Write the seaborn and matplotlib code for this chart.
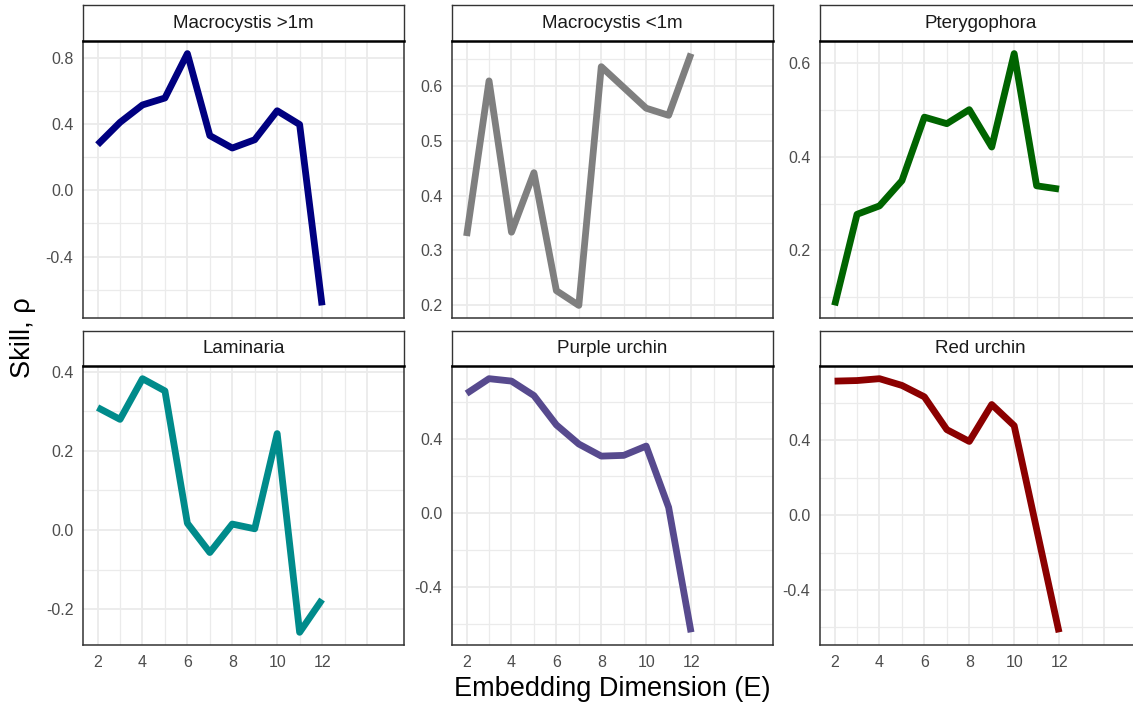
import numpy as np
import pandas as pd
import matplotlib
matplotlib.use("Agg")
import matplotlib.pyplot as plt
import seaborn as sns

sns.set_theme(style="white")
plt.rcParams['font.family'] = ['Liberation Sans', 'DejaVu Sans']

E = [2, 3, 4, 5, 6, 7, 8, 9, 10, 11, 12]
species = ["Macrocystis >1m", "Macrocystis <1m", "Pterygophora",
           "Laminaria", "Purple urchin", "Red urchin"]
macro_big = [0.275, 0.41, 0.515, 0.557, 0.825, 0.33, 0.255, 0.305, 0.48, 0.397, -0.695]
macro_small = [0.326, 0.61, 0.333, 0.442, 0.226, 0.199, 0.636, 0.598, 0.56, 0.547, 0.66]
ptery = [0.082, 0.277, 0.295, 0.349, 0.485, 0.471, 0.501, 0.421, 0.621, 0.338, 0.331]
lamin = [0.31, 0.28, 0.383, 0.352, 0.017, -0.057, 0.015, 0.003, 0.244, -0.259, -0.176]
purple = [0.643, 0.723, 0.71, 0.632, 0.474, 0.371, 0.306, 0.31, 0.36, 0.03, -0.643]
red = [0.715, 0.718, 0.728, 0.692, 0.631, 0.456, 0.393, 0.59, 0.477, -0.075, -0.626]
series = [macro_big, macro_small, ptery, lamin, purple, red]
colors = ["#000080", "#7F7F7F", "#006400", "#008B8B", "#574A8E", "#8B0000"]
yticks = [[-0.4, 0.0, 0.4, 0.8], [0.2, 0.3, 0.4, 0.5, 0.6], [0.2, 0.4, 0.6],
          [-0.2, 0.0, 0.2, 0.4], [-0.4, 0.0, 0.4], [-0.4, 0.0, 0.4]]
xticks = [2, 4, 6, 8, 10, 12]

df = pd.DataFrame({
    "species": np.repeat(species, len(E)),
    "E": E * len(species),
    "rho": np.concatenate(series),
})

W, H = 1133, 708
fig = plt.figure(figsize=(W / 100, H / 100), dpi=100)

col_left = [83, 452, 820]
pw = 321
rows = [(5, 41, 318), (331, 366, 645)]

for i, sp in enumerate(species):
    r, c = divmod(i, 3)
    st, sb, pb = rows[r]
    x0 = col_left[c]
    ax = fig.add_axes([x0 / W, 1 - pb / H, pw / W, (pb - sb) / H])
    sub = df[df.species == sp]
    sns.lineplot(data=sub, x="E", y="rho", color=colors[i], lw=4.9, ax=ax,
                 solid_capstyle="butt", solid_joinstyle="round")
    yt = yticks[i]
    step = yt[1] - yt[0]
    ax.set_yticks(yt)
    ax.set_yticklabels([f"{v:.1f}" for v in yt])
    minor_y = [v + step / 2 for v in [yt[0] - step] + yt]
    ax.set_yticks(minor_y, minor=True)
    ax.set_xticks(xticks + [14])
    ax.set_xticks([3, 5, 7, 9, 11, 13], minor=True)
    if r == 1:
        ax.set_xticklabels([str(v) for v in xticks] + [""])
    else:
        ax.set_xticklabels([])
    vals = np.array(series[i])
    rng = vals.max() - vals.min()
    ax.set_xlim(1.35, 15.65)
    ax.set_ylim(vals.min() - 0.05 * rng, vals.max() + 0.05 * rng)
    ax.grid(True, which="major", color="#EBEBEB", lw=1.3)
    ax.grid(True, which="minor", color="#EBEBEB", lw=0.9)
    ax.set_axisbelow(True)
    ax.tick_params(axis="both", which="both", length=0, labelsize=11.5,
                   labelcolor="#4D4D4D")
    ax.tick_params(axis="x", pad=7)
    ax.tick_params(axis="y", pad=7)
    ax.set_xlabel("")
    ax.set_ylabel("")
    for s in ax.spines.values():
        s.set_color("#333333")
        s.set_linewidth(1.1)
    ax.spines["top"].set_visible(False)
    # strip
    sax = fig.add_axes([x0 / W, 1 - sb / H, pw / W, (sb - st) / H])
    sax.set_xticks([])
    sax.set_yticks([])
    sax.set_facecolor("white")
    for s in sax.spines.values():
        s.set_color("#333333")
        s.set_linewidth(1.0)
    sax.spines["bottom"].set_color("black")
    sax.spines["bottom"].set_linewidth(1.8)
    sax.text(0.5, 0.5, sp, ha="center", va="center", fontsize=13.5,
             color="#1A1A1A", transform=sax.transAxes)

fig.text(23 / W, 1 - 338 / H, "Skill, ρ", rotation=90, ha="center", va="center",
         fontsize=19.5, color="black")
fig.text(612 / W, 1 - 689 / H, "Embedding Dimension (E)", ha="center", va="center",
         fontsize=19.5, color="black")

fig.savefig("out.png", dpi=100, facecolor="white")
